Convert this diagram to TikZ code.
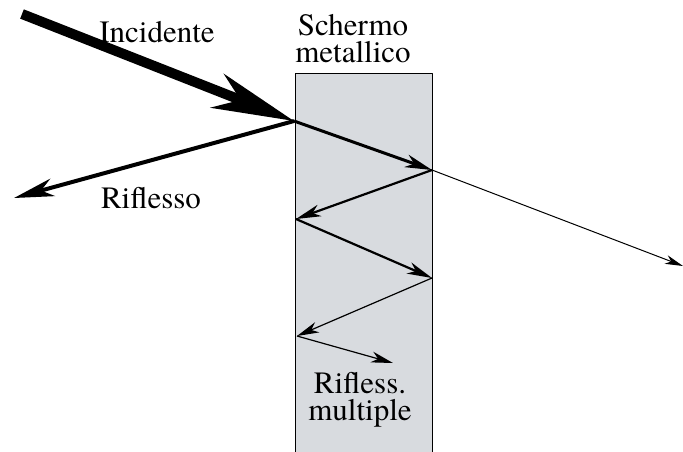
\documentclass[tikz,border=0pt]{standalone}
\usepackage{fontspec}
\setmainfont{texgyretermes-regular.otf}
\usetikzlibrary{arrows.meta}
\definecolor{screengray}{RGB}{216,219,223}

\begin{document}
\begin{tikzpicture}[x=1pt, y=-1pt, line join=round,
    lbl/.style={font=\fontsize{31}{27}\selectfont, align=center, inner sep=0pt, anchor=base},
    ray/.style n args={3}{line width=#1, -{Stealth[length=#2, width=#3, inset=#2*0.3]}},
  ]
  \useasboundingbox (0,0) rectangle (683,451);
  % metal screen
  \fill[screengray] (295,73) rectangle (432,452);
  \draw[line width=0.8pt] (295,452) -- (295,73) -- (432,73) -- (432,452);
  % reflection points
  \coordinate (src) at (22,14);
  \coordinate (p0) at (294,121);
  \coordinate (p1) at (432,170);
  \coordinate (p2) at (296,219);
  \coordinate (p3) at (432,278);
  \coordinate (p4) at (297,336);
  \coordinate (refl) at (14,198);
  \coordinate (trans) at (683,266);
  \coordinate (mult) at (393,363);
  % rays
  \draw[ray={10pt}{82pt}{36pt}] (src) -- (p0);
  \draw[ray={4pt}{40pt}{18pt}] (p0) -- (refl);
  \draw[ray={3pt}{27pt}{13pt}] (p0) -- (p1);
  \draw[ray={1pt}{18pt}{9pt}] (p1) -- (trans);
  \draw[ray={2.2pt}{25pt}{12pt}] (p1) -- (p2);
  \draw[ray={2.2pt}{25pt}{12pt}] (p2) -- (p3);
  \draw[ray={1.2pt}{22pt}{11pt}] (p3) -- (p4);
  \draw[ray={1.2pt}{22pt}{11pt}] (p4) -- (mult);
  % labels (anchored on the last baseline)
  \node[lbl] (inc) at (157,42) {Incidente};
  \node[lbl] (scr) at (353,62) {Schermo\\metallico};
  \node[lbl] (rif) at (151,208) {Riflesso};
  \node[lbl] (mul) at (360,420) {Rifless.\\multiple};
\end{tikzpicture}
\end{document}
